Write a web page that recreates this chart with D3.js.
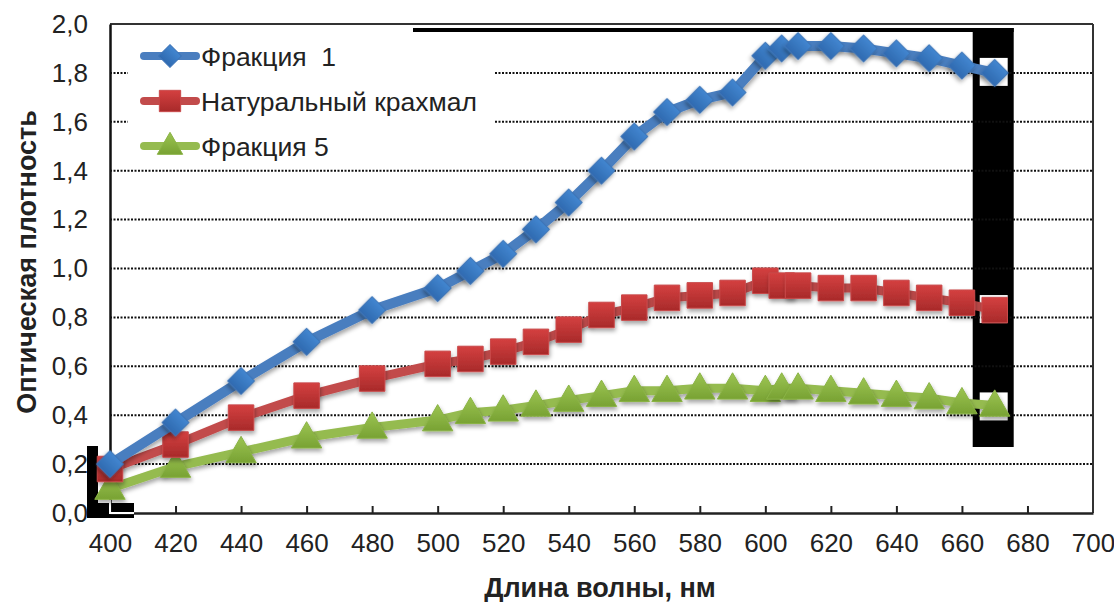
<!DOCTYPE html>
<html>
<head>
<meta charset="utf-8">
<script src="https://cdn.jsdelivr.net/npm/d3@7"></script>
<style>
  html, body { margin: 0; padding: 0; background: #fff; }
  svg { display: block; }
  text { font-family: "Liberation Sans", Arial, sans-serif; fill: #222; white-space: pre; }
</style>
</head>
<body>
<svg id="chart" width="1114" height="602"></svg>
<script>
// ---- data ----
const wavelengths = [400, 420, 440, 460, 480, 500, 510, 520, 530, 540, 550, 560, 570, 580, 590, 600, 605, 610, 620, 630, 640, 650, 660, 670];
const fraction1 = [0.20, 0.37, 0.54, 0.70, 0.83, 0.92, 0.99, 1.06, 1.16, 1.27, 1.40, 1.54, 1.64, 1.69, 1.72, 1.87, 1.90, 1.91, 1.91, 1.90, 1.88, 1.86, 1.83, 1.80];
const nativeStarch = [0.18, 0.28, 0.39, 0.48, 0.55, 0.61, 0.63, 0.66, 0.70, 0.75, 0.81, 0.84, 0.88, 0.89, 0.90, 0.95, 0.93, 0.93, 0.92, 0.92, 0.90, 0.88, 0.86, 0.83];
const fraction5 = [0.10, 0.19, 0.25, 0.31, 0.35, 0.38, 0.41, 0.42, 0.44, 0.46, 0.48, 0.50, 0.50, 0.51, 0.51, 0.50, 0.51, 0.51, 0.50, 0.49, 0.48, 0.47, 0.45, 0.44];
const seriesNames = ["Фракция  1", "Натуральный крахмал", "Фракция 5"];
const xTicks = [400, 420, 440, 460, 480, 500, 520, 540, 560, 580, 600, 620, 640, 660, 680, 700];
const yTicks = [0, 0.2, 0.4, 0.6, 0.8, 1.0, 1.2, 1.4, 1.6, 1.8, 2.0];
const xTitle = "Длина волны, нм";
const yTitle = "Оптическая плотность";

// ---- layout ----
const svg = d3.select("#chart");
const L = 110, R = 1093, T = 24, B = 513;
const x = d3.scaleLinear().domain([400, 700]).range([L, R]);
const y = d3.scaleLinear().domain([0, 2]).range([B, T]);

const defs = svg.append("defs");
const f = defs.append("filter").attr("id", "shadow").attr("x", "-50%").attr("y", "-50%").attr("width", "200%").attr("height", "200%");
f.append("feDropShadow").attr("dx", 1).attr("dy", 3).attr("stdDeviation", 2).attr("flood-color", "#000").attr("flood-opacity", 0.35);

function grad(id, c1, c2) {
  const g = defs.append("linearGradient").attr("id", id).attr("x1", 0).attr("y1", 0).attr("x2", 0).attr("y2", 1);
  g.append("stop").attr("offset", "0%").attr("stop-color", c1);
  g.append("stop").attr("offset", "100%").attr("stop-color", c2);
}
grad("gBlue", "#4286D0", "#2F6AB0");
grad("gRed", "#D44040", "#A82A2A");
grad("gGreen", "#9CC452", "#78A233");

const styles = [
  { line: "#4A7EBF", fill: "url(#gBlue)", stroke: "#3D74B8", shape: d3.symbolSquare, size: 370, rot: 45, dy: 0, width: 10 },
  { line: "#C24B4B", fill: "url(#gRed)", stroke: "#C9494A", shape: d3.symbolSquare, size: 650, rot: 0, dy: 0, width: 9 },
  { line: "#95BB50", fill: "url(#gGreen)", stroke: "#8AB345", shape: d3.symbolTriangle, size: 400, rot: 0, dy: 2, width: 9 }
];
const allSeries = [fraction1, nativeStarch, fraction5];

// artifacts (scan blotches)
const art = svg.append("g");
art.append("rect").attr("x", x(670) - 22).attr("y", 28).attr("width", 41).attr("height", 419).attr("fill", "#000");
art.append("rect").attr("x", 413).attr("y", 28).attr("width", x(670) + 19 - 413).attr("height", 4).attr("fill", "#000");
art.append("rect").attr("x", 87).attr("y", 446).attr("width", 11).attr("height", 72).attr("fill", "#000");
art.append("rect").attr("x", 87).attr("y", 503).attr("width", 47).attr("height", 15).attr("fill", "#000");

// gridlines
svg.append("g").selectAll("line").data(yTicks.filter(v => v > 0 && v < 2)).join("line")
  .attr("x1", L).attr("x2", R).attr("y1", d => y(d)).attr("y2", d => y(d))
  .attr("stroke", "#111").attr("stroke-width", 2).attr("stroke-dasharray", "2,1.5");

// frame top & right
svg.append("line").attr("x1", L).attr("x2", R).attr("y1", T).attr("y2", T).attr("stroke", "#333").attr("stroke-width", 2);
svg.append("line").attr("x1", R).attr("x2", R).attr("y1", T).attr("y2", B).attr("stroke", "#333").attr("stroke-width", 2);

// axes
const xAxis = d3.axisBottom(x).tickValues(xTicks).tickSize(-7).tickSizeOuter(0).tickFormat(d => d).tickPadding(21);
const gx = svg.append("g").attr("transform", `translate(0,${B})`).call(xAxis);
gx.select(".domain").attr("stroke", "#222").attr("stroke-width", 2.5);
gx.selectAll(".tick line").attr("stroke", "#222").attr("stroke-width", 2).filter(d => d === 400 || d === 700).remove();
gx.selectAll(".tick text").attr("font-size", 26).attr("fill", "#222").attr("font-family", "Liberation Sans, Arial, sans-serif");

const yAxis = d3.axisLeft(y).tickValues(yTicks).tickSize(0).tickPadding(22)
  .tickFormat(d => d3.format(".1f")(d).replace(".", ","));
const gy = svg.append("g").attr("transform", `translate(${L},0)`).call(yAxis);
gy.select(".domain").attr("stroke", "#111").attr("stroke-width", 2.5);
gy.selectAll(".tick text").attr("font-size", 26).attr("fill", "#222").attr("font-family", "Liberation Sans, Arial, sans-serif");

// white L in the bottom-left blotch
svg.append("path").attr("d", `M${L},500 V${B} H134`).attr("fill", "none").attr("stroke", "#fff").attr("stroke-width", 2);

// white patches behind last markers
art.selectAll("rect.patch").data(allSeries).join("rect").attr("class", "patch")
  .attr("x", x(670) - 15).attr("y", (d, i) => y(d[d.length - 1]) - 15 + (i === 2 ? 2 : 0)).attr("width", 28).attr("height", 28).attr("fill", "#fff");

// series
const line = d3.line().x((d, i) => x(wavelengths[i])).y(d => y(d));
allSeries.slice().reverse().forEach((vals, ri) => {
  const i = allSeries.length - 1 - ri;
  const s = styles[i];
  const g = svg.append("g");
  g.append("path").datum(vals).attr("d", line).attr("fill", "none").attr("stroke", s.line)
    .attr("stroke-width", s.width).attr("stroke-linejoin", "round").attr("filter", "url(#shadow)");
  g.selectAll("path.m").data(vals).join("path").attr("class", "m")
    .attr("d", d3.symbol().type(s.shape).size(s.size))
    .attr("transform", (d, k) => `translate(${x(wavelengths[k])},${y(d) + s.dy}) rotate(${s.rot})`)
    .attr("fill", s.fill).attr("stroke", s.stroke).attr("stroke-width", 1).attr("filter", "url(#shadow)");
});

// legend
const leg = svg.append("g");
leg.append("rect").attr("x", 128).attr("y", 33).attr("width", 366).attr("height", 132).attr("fill", "#fff");
const legY = [56, 101, 146];
seriesNames.forEach((name, i) => {
  const s = styles[i];
  const gy0 = legY[i];
  leg.append("line").attr("x1", 144).attr("x2", 196).attr("y1", gy0).attr("y2", gy0)
    .attr("stroke", s.line).attr("stroke-width", 8).attr("stroke-linecap", "round");
  leg.append("path").attr("d", d3.symbol().type(s.shape).size(s.size * 0.7))
    .attr("transform", `translate(170,${gy0 + (i === 2 ? 1 : 0)}) rotate(${s.rot})`).attr("fill", s.fill).attr("stroke", s.stroke);
  leg.append("text").attr("x", 201).attr("y", gy0).attr("dy", "0.36em").attr("font-size", 26.5).text(name);
});

// titles
svg.append("text").attr("x", 600).attr("y", 588).attr("dy", "0.35em").attr("text-anchor", "middle")
  .attr("font-size", 27).attr("font-weight", "bold").text(xTitle);
svg.append("text").attr("transform", "translate(27,262) rotate(-90)").attr("dy", "0.35em").attr("text-anchor", "middle")
  .attr("font-size", 27).attr("font-weight", "bold").text(yTitle);
</script>
</body>
</html>
